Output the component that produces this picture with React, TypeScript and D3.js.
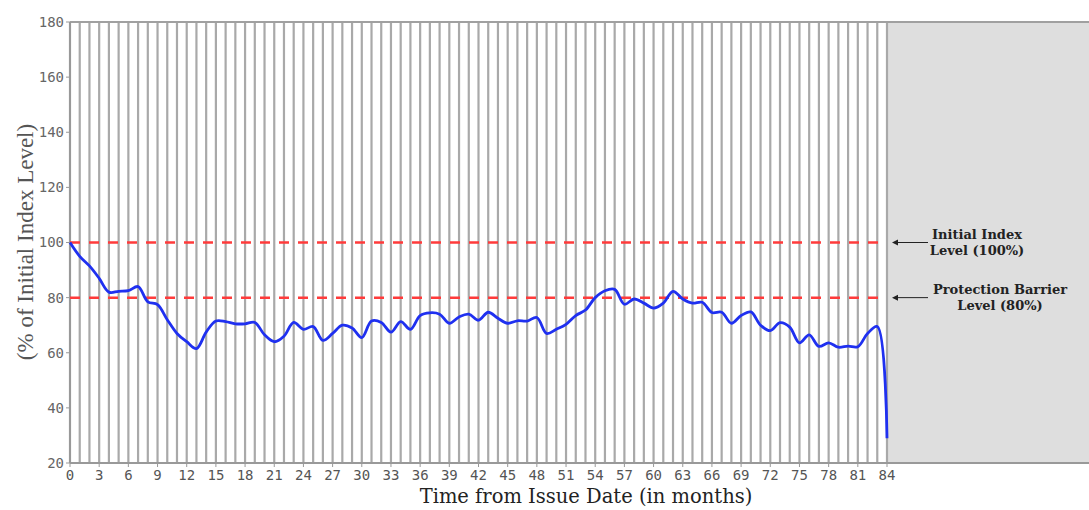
import React from "react";
import * as d3 from "d3";

const months: number[] = d3.range(0, 85);
const indexLevel: number[] = [
  100, 95, 91.5, 87, 82, 82.3, 82.5, 84, 78.5, 77.5,
  72, 67, 64, 61.5, 67.5, 71.5, 71.3, 70.5, 70.5, 71,
  66.5, 64, 66, 71, 68.5, 69.5, 64.5, 67, 70, 69,
  65.5, 71.5, 71, 67.5, 71.3, 68.5, 73.5, 74.5, 74, 70.7,
  73, 74, 71.8, 74.7, 72.5, 70.7, 71.6, 71.5, 72.8, 67,
  68.5, 70.3, 73.5, 75.5, 80, 82.5, 83, 77.6, 79.5, 78,
  76.2, 78, 82.3, 79.5, 78, 78.3, 74.6, 74.7, 70.7, 73.5,
  74.8, 70, 68, 70.9, 69.3, 63.6, 66.5, 62.3, 63.6, 62,
  62.4, 62.2, 67, 69.5, 29,
];
const yTicks: number[] = [20, 40, 60, 80, 100, 120, 140, 160, 180];
const xTicks: number[] = d3.range(0, 85, 3);
const levels = [
  { value: 100, lines: ["Initial Index", "Level (100%)"], cx: [977, 977] },
  { value: 80, lines: ["Protection Barrier", "Level (80%)"], cx: [1000, 1000] },
];
const xTitle = "Time from Issue Date (in months)";
const yTitle = "(% of Initial Index Level)";

const W = 1089;
const H = 510;
const left = 70;
const right = 887;
const top = 22;
const bottom = 463;

export default function App() {
  const x = d3.scaleLinear().domain([0, 84]).range([left, right]);
  const y = d3.scaleLinear().domain([20, 180]).range([bottom, top]);
  const line = d3
    .line<number>()
    .x((_, i) => x(months[i]))
    .y((d) => y(d))
    .curve(d3.curveCatmullRom.alpha(0.5));
  const tickFont = "'DejaVu Sans Mono', monospace";
  return (
    <svg
      width={W}
      height={H}
      style={{ position: "absolute", left: 0, top: 0, background: "#fff" }}
    >
      <rect x={right} y={top} width={W - right} height={bottom - top} fill="#dedede" />
      {months.map((m) => (
        <line
          key={"g" + m}
          x1={x(m)}
          x2={x(m)}
          y1={top}
          y2={bottom}
          stroke="#a9a9a9"
          strokeWidth={2.2}
        />
      ))}
      <line x1={left} x2={W} y1={top} y2={top} stroke="#a0a0a0" strokeWidth={2} />
      <line x1={left} x2={W} y1={bottom} y2={bottom} stroke="#999" strokeWidth={2} />
      <line x1={left} x2={left} y1={top} y2={bottom} stroke="#999" strokeWidth={2} />
      {yTicks.map((t) => (
        <g key={"y" + t}>
          <line x1={left - 4} x2={left} y1={y(t)} y2={y(t)} stroke="#999" strokeWidth={1} />
          <text
            x={left - 6}
            y={y(t)}
            dy="0.35em"
            textAnchor="end"
            fontFamily={tickFont}
            fontSize={14}
            fill="#666"
          >
            {t}
          </text>
        </g>
      ))}
      {xTicks.map((t) => (
        <g key={"x" + t}>
          <line x1={x(t)} x2={x(t)} y1={bottom} y2={bottom + 4} stroke="#999" strokeWidth={1} />
          <text
            x={x(t)}
            y={bottom + 17}
            textAnchor="middle"
            fontFamily={tickFont}
            fontSize={14}
            fill="#555"
          >
            {t}
          </text>
        </g>
      ))}
      {levels.map((l) => (
        <g key={"l" + l.value}>
          <line
            x1={left}
            x2={right}
            y1={y(l.value)}
            y2={y(l.value)}
            stroke="#ff3b3b"
            strokeWidth={2.5}
            strokeDasharray="10 9"
          />
          <line
            x1={894}
            x2={928}
            y1={y(l.value)}
            y2={y(l.value)}
            stroke="#222"
            strokeWidth={1}
          />
          <path d={`M${892},${y(l.value)} l6,-3 l0,6 z`} fill="#222" />
          {l.lines.map((s, i) => (
            <text
              key={i}
              x={l.cx[i]}
              y={y(l.value) - 4 + i * 16}
              textAnchor="middle"
              fontFamily="'DejaVu Serif', serif"
              fontWeight="bold"
              fontSize={13}
              fill="#222"
            >
              {s}
            </text>
          ))}
        </g>
      ))}
      <path
        d={line(indexLevel) || ""}
        fill="none"
        stroke="#1f30f0"
        strokeWidth={2.8}
        strokeLinejoin="round"
      />
      <text
        x={586}
        y={503}
        textAnchor="middle"
        fontFamily="'DejaVu Serif', serif"
        fontSize={19.5}
        fill="#222"
      >
        {xTitle}
      </text>
      <text
        transform={`translate(33,${242}) rotate(-90)`}
        textAnchor="middle"
        fontFamily="'Liberation Serif', serif"
        fontSize={23}
        fill="#555"
      >
        {yTitle}
      </text>
    </svg>
  );
}
